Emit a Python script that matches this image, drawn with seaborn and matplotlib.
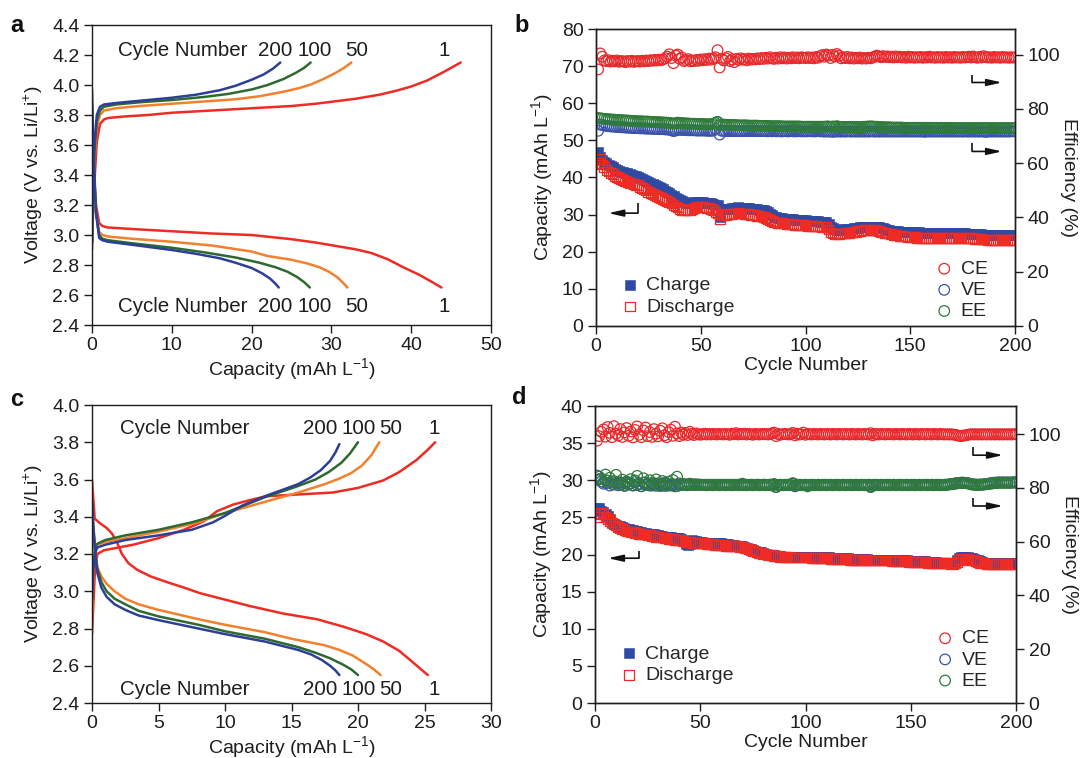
import numpy as np
import matplotlib
matplotlib.use("Agg")
import matplotlib.pyplot as plt
import seaborn as sns

sns.set_theme(style="ticks")
plt.rcParams["font.family"] = ["Liberation Sans", "DejaVu Sans"]
plt.rcParams["mathtext.fontset"] = "custom"
plt.rcParams["mathtext.rm"] = "Liberation Sans"
plt.rcParams["mathtext.it"] = "Liberation Sans:italic"
plt.rcParams["mathtext.bf"] = "Liberation Sans:bold"

FS = 14

# ---------------- Panel a: voltage profiles ----------------
a_chg_cap_1 = [0.0, 0.1, 0.3, 0.6, 1.0, 1.5, 2.0, 4, 7, 10, 15, 20, 25, 28, 30, 33, 36, 38, 40, 42, 44, 46.2]
a_chg_v_1 = [2.90, 3.10, 3.35, 3.62, 3.74, 3.77, 3.78, 3.79, 3.80, 3.815, 3.83, 3.845, 3.86, 3.875, 3.888, 3.908, 3.935, 3.96, 3.99, 4.03, 4.085, 4.15]
a_dis_cap_1 = [0.0, 0.2, 0.5, 0.9, 1.3, 2, 5, 10, 15, 20, 25, 28, 30, 33, 35, 37, 39, 41, 42.5, 43.8]
a_dis_v_1 = [3.55, 3.40, 3.20, 3.08, 3.06, 3.05, 3.04, 3.025, 3.01, 3.0, 2.972, 2.95, 2.932, 2.905, 2.88, 2.84, 2.785, 2.735, 2.69, 2.65]

a_chg_cap_50 = [0.0, 0.1, 0.3, 0.6, 1.0, 1.5, 3, 6, 10, 14, 18, 21, 24, 26, 27.5, 29, 30.5, 31.6, 32.5]
a_chg_v_50 = [2.95, 3.2, 3.5, 3.72, 3.80, 3.83, 3.845, 3.86, 3.875, 3.89, 3.905, 3.925, 3.955, 3.98, 4.005, 4.04, 4.08, 4.115, 4.15]
a_dis_cap_50 = [0.0, 0.2, 0.5, 0.9, 1.3, 2, 5, 10, 15, 20, 22, 25, 27, 28.5, 29.7, 30.7, 31.4, 32.0]
a_dis_v_50 = [3.75, 3.45, 3.15, 3.02, 3.0, 2.99, 2.975, 2.955, 2.93, 2.89, 2.86, 2.835, 2.81, 2.785, 2.755, 2.72, 2.685, 2.65]

a_chg_cap_100 = [0.0, 0.1, 0.3, 0.6, 1.0, 1.5, 3, 6, 10, 14, 17, 20, 22, 24, 25.5, 26.6, 27.4]
a_chg_v_100 = [2.95, 3.25, 3.55, 3.76, 3.83, 3.855, 3.87, 3.885, 3.90, 3.92, 3.94, 3.97, 4.0, 4.04, 4.08, 4.115, 4.15]
a_dis_cap_100 = [0.0, 0.2, 0.5, 0.9, 1.3, 2, 5, 10, 14, 18, 21, 23, 24.5, 25.7, 26.6, 27.3]
a_dis_v_100 = [3.85, 3.5, 3.15, 3.0, 2.975, 2.965, 2.945, 2.915, 2.885, 2.85, 2.815, 2.785, 2.755, 2.72, 2.685, 2.65]

a_chg_cap_200 = [0.0, 0.1, 0.3, 0.6, 1.0, 1.5, 3, 6, 10, 13, 16, 18, 20, 21.5, 22.7, 23.6]
a_chg_v_200 = [2.95, 3.3, 3.6, 3.8, 3.855, 3.87, 3.88, 3.895, 3.915, 3.935, 3.965, 3.995, 4.035, 4.07, 4.11, 4.15]
a_dis_cap_200 = [0.0, 0.2, 0.5, 0.9, 1.3, 2, 5, 10, 13, 16, 18, 20, 21.3, 22.3, 23.0, 23.4]
a_dis_v_200 = [3.97, 3.55, 3.15, 2.98, 2.965, 2.955, 2.935, 2.90, 2.875, 2.845, 2.815, 2.78, 2.745, 2.71, 2.675, 2.65]

# ---------------- Panel c: voltage profiles ----------------
c_chg_cap_1 = [0.0, 0.2, 0.4, 0.9, 3.1, 5, 6.9, 8.4, 9.4, 10.6, 11.9, 13.1, 15.6, 18.1, 20.0, 21.9, 23.1, 24.4, 25.25, 25.8]
c_chg_v_1 = [2.77, 3.08, 3.20, 3.22, 3.25, 3.285, 3.33, 3.375, 3.43, 3.465, 3.49, 3.51, 3.52, 3.53, 3.555, 3.595, 3.64, 3.705, 3.76, 3.80]
c_dis_cap_1 = [0.0, 0.2, 0.6, 1.1, 1.5, 1.9, 2.25, 2.75, 3.4, 4.4, 5.6, 6.9, 8.1, 10, 11.9, 14.4, 16.9, 18.9, 20.6, 21.9, 23.1, 24.1, 25.25]
c_dis_v_1 = [3.60, 3.39, 3.365, 3.34, 3.31, 3.26, 3.20, 3.15, 3.115, 3.08, 3.05, 3.02, 2.99, 2.955, 2.92, 2.88, 2.85, 2.81, 2.77, 2.73, 2.68, 2.62, 2.55]

c_chg_cap_50 = [0.0, 0.1, 0.25, 0.4, 1, 2.5, 5, 8, 10, 12, 13.5, 15.5, 17.5, 18.6, 19.5, 20.3, 21.0, 21.6]
c_chg_v_50 = [2.85, 3.1, 3.22, 3.25, 3.265, 3.285, 3.32, 3.37, 3.42, 3.46, 3.49, 3.53, 3.575, 3.605, 3.635, 3.675, 3.73, 3.80]
c_dis_cap_50 = [0.0, 0.1, 0.25, 0.4, 0.7, 1.1, 1.7, 2.5, 3.5, 5, 8, 10, 13, 15, 17.5, 18.6, 19.6, 20.6, 21.2, 21.7]
c_dis_v_50 = [3.45, 3.35, 3.22, 3.13, 3.08, 3.04, 3.0, 2.96, 2.93, 2.90, 2.85, 2.82, 2.78, 2.745, 2.71, 2.685, 2.655, 2.61, 2.58, 2.55]

c_chg_cap_100 = [0.0, 0.1, 0.25, 0.4, 1, 2.5, 5, 7.5, 10, 13, 15.5, 16.8, 17.8, 18.75, 19.4, 20.0]
c_chg_v_100 = [2.95, 3.15, 3.24, 3.255, 3.275, 3.30, 3.33, 3.37, 3.42, 3.505, 3.565, 3.60, 3.64, 3.69, 3.74, 3.80]
c_dis_cap_100 = [0.0, 0.1, 0.25, 0.4, 0.7, 1.1, 1.7, 2.5, 3.5, 5, 8, 10, 13, 15.5, 16.8, 17.9, 18.9, 19.5, 20.0]
c_dis_v_100 = [3.45, 3.33, 3.2, 3.12, 3.05, 3.0, 2.96, 2.93, 2.895, 2.865, 2.82, 2.785, 2.745, 2.70, 2.67, 2.64, 2.605, 2.58, 2.55]

c_chg_cap_200 = [0.0, 0.1, 0.25, 0.4, 1, 2.5, 5, 7.5, 9.1, 10, 11.3, 13, 15.5, 16.4, 17.2, 17.9, 18.3, 18.6]
c_chg_v_200 = [2.95, 3.12, 3.21, 3.235, 3.25, 3.275, 3.30, 3.33, 3.37, 3.405, 3.46, 3.51, 3.575, 3.61, 3.65, 3.70, 3.745, 3.79]
c_dis_cap_200 = [0.0, 0.1, 0.25, 0.4, 0.7, 1.1, 1.7, 2.5, 3.5, 5, 8, 10, 13, 15.5, 16.5, 17.3, 17.9, 18.3, 18.6]
c_dis_v_200 = [3.50, 3.35, 3.2, 3.1, 3.02, 2.97, 2.93, 2.90, 2.87, 2.845, 2.80, 2.77, 2.73, 2.685, 2.66, 2.63, 2.60, 2.575, 2.55]

# ---------------- Panel b: cycling ----------------
cycles = list(range(1, 201))
b_charge = [
    46.9, 45.6, 44.8, 44.2, 43.8, 43.4, 43.0, 42.7, 42.3, 42.0,
    41.8, 41.6, 41.4, 41.2, 41.1, 40.9, 40.7, 40.5, 40.4, 40.2,
    39.9, 39.6, 39.4, 39.1, 38.8, 38.6, 38.3, 38.0, 37.8, 37.5,
    37.1, 36.8, 36.4, 36.0, 35.7, 35.3, 34.9, 34.6, 34.2, 33.9,
    33.6, 33.3, 33.1, 33.0, 33.0, 33.2, 33.4, 33.5, 33.5, 33.4,
    33.3, 33.2, 33.1, 33.0, 33.0, 32.8, 32.6, 32.5, 29.4, 31.6,
    31.5, 31.4, 31.5, 31.6, 31.7, 31.8, 31.9, 32.0, 31.9, 31.9,
    31.8, 31.8, 31.7, 31.6, 31.6, 31.5, 31.4, 31.3, 31.3, 31.2,
    31.0, 30.6, 30.2, 29.8, 29.4, 29.3, 29.2, 29.1, 29.0, 28.9,
    28.8, 28.8, 28.7, 28.7, 28.6, 28.6, 28.5, 28.5, 28.5, 28.5,
    28.4, 28.4, 28.3, 28.3, 28.2, 28.2, 28.1, 28.1, 28.0, 28.0,
    27.4, 26.7, 26.3, 26.0, 25.8, 25.8, 25.9, 25.9, 26.0, 26.0,
    26.1, 26.2, 26.3, 26.4, 26.5, 26.6, 26.6, 26.7, 26.7, 26.7,
    26.8, 26.8, 26.7, 26.7, 26.7, 26.5, 26.3, 26.1, 25.9, 25.8,
    25.7, 25.6, 25.5, 25.5, 25.4, 25.4, 25.3, 25.3, 25.3, 25.3,
    25.2, 25.2, 25.2, 25.2, 25.1, 25.1, 25.1, 25.1, 25.1, 25.1,
    25.1, 25.1, 25.1, 25.1, 25.1, 25.1, 25.1, 25.1, 25.1, 25.1,
    25.0, 25.0, 25.0, 25.0, 25.0, 25.0, 24.9, 24.9, 24.9, 24.9,
    24.8, 24.8, 24.7, 24.7, 24.6, 24.6, 24.5, 24.5, 24.4, 24.4,
    24.4, 24.4, 24.4, 24.4, 24.4, 24.4, 24.4, 24.4, 24.4, 24.4,
]
b_discharge = [
    43.8, 44.9, 43.5, 42.8, 42.0, 41.6, 41.2, 40.9, 40.5, 40.2,
    39.9, 39.6, 39.4, 39.1, 38.8, 38.6, 38.4, 38.2, 38.0, 37.9,
    37.5, 37.2, 36.8, 36.5, 36.1, 35.8, 35.5, 35.2, 35.0, 34.8,
    34.5, 34.2, 33.9, 33.6, 33.4, 33.0, 32.6, 32.2, 31.9, 31.6,
    31.3, 31.2, 31.1, 31.2, 31.2, 31.5, 31.8, 32.0, 32.1, 32.1,
    32.0, 31.9, 31.8, 31.7, 31.6, 31.2, 30.8, 30.3, 28.7, 29.8,
    29.9, 30.0, 30.1, 30.2, 30.2, 30.3, 30.3, 30.4, 30.3, 30.3,
    30.2, 30.2, 30.1, 30.0, 29.9, 29.8, 29.7, 29.6, 29.5, 29.4,
    29.2, 28.9, 28.6, 28.3, 28.0, 27.9, 27.8, 27.7, 27.7, 27.6,
    27.5, 27.5, 27.4, 27.4, 27.3, 27.3, 27.2, 27.2, 27.1, 27.1,
    27.0, 27.0, 27.0, 26.9, 26.9, 26.8, 26.8, 26.7, 26.7, 26.7,
    26.0, 25.2, 24.9, 24.8, 24.8, 24.8, 24.9, 24.9, 24.9, 25.0,
    25.1, 25.2, 25.3, 25.4, 25.5, 25.6, 25.7, 25.8, 25.8, 25.8,
    25.8, 25.8, 25.8, 25.7, 25.6, 25.4, 25.2, 25.0, 24.9, 24.9,
    24.7, 24.6, 24.5, 24.4, 24.3, 24.2, 24.1, 24.1, 24.0, 24.0,
    23.9, 23.9, 23.8, 23.8, 23.7, 23.7, 23.7, 23.6, 23.6, 23.6,
    23.6, 23.6, 23.6, 23.6, 23.6, 23.6, 23.6, 23.6, 23.6, 23.6,
    23.6, 23.6, 23.6, 23.6, 23.6, 23.6, 23.6, 23.6, 23.6, 23.6,
    23.5, 23.5, 23.4, 23.4, 23.3, 23.3, 23.2, 23.2, 23.2, 23.1,
    23.1, 23.1, 23.1, 23.1, 23.1, 23.1, 23.1, 23.1, 23.1, 23.1,
]
b_ce = [
    94.5, 100.4, 99.2, 97.8, 97.6, 97.9, 97.4, 97.7, 97.5, 97.8,
    97.3, 97.6, 97.5, 97.2, 97.6, 97.4, 97.7, 97.3, 97.5, 97.6,
    97.4, 97.7, 97.5, 97.8, 97.6, 97.9, 97.7, 98.0, 97.8, 98.1,
    97.9, 98.2, 98.6, 99.2, 100.1, 98.7, 96.8, 99.6, 100.0, 98.4,
    98.9, 97.6, 97.9, 98.3, 97.5, 97.8, 97.6, 98.0, 97.7, 98.2,
    97.9, 98.3, 98.0, 98.5, 98.1, 98.6, 99.0, 101.6, 95.2, 98.4,
    97.8, 98.6, 99.1, 97.6, 98.2, 97.2, 98.4, 98.0, 98.6, 98.1,
    98.3, 97.9, 98.5, 98.1, 98.4, 98.2, 98.6, 98.3, 98.7, 98.4,
    98.8, 98.5, 99.0, 98.6, 98.4, 98.8, 98.5, 99.0, 98.6, 98.9,
    98.5, 98.8, 98.6, 99.0, 98.7, 98.9, 98.6, 99.0, 98.8, 98.7,
    99.0, 98.7, 98.9, 98.6, 99.1, 98.8, 99.4, 99.8, 99.2, 100.0,
    99.6, 98.7, 99.9, 99.3, 100.2, 99.5, 98.6, 99.0, 98.7, 99.1,
    98.6, 98.9, 98.5, 98.8, 98.6, 98.9, 98.5, 98.7, 98.5, 98.8,
    98.6, 98.9, 99.2, 99.6, 99.3, 99.0, 99.4, 99.1, 99.3, 99.0,
    99.2, 98.9, 99.3, 99.0, 99.2, 98.9, 99.1, 98.8, 99.2, 98.9,
    99.1, 98.8, 99.0, 98.9, 99.1, 98.8, 99.0, 98.9, 99.2, 98.9,
    99.0, 98.8, 99.1, 98.9, 99.0, 98.8, 99.1, 98.9, 99.0, 98.8,
    99.1, 98.9, 99.0, 98.8, 99.1, 98.9, 99.0, 99.2, 98.9, 99.3,
    99.0, 98.8, 99.1, 98.9, 99.4, 99.1, 98.9, 99.0, 98.8, 99.1,
    98.9, 99.0, 98.8, 99.1, 98.9, 99.0, 98.8, 99.0, 98.9, 98.9,
]
b_ve = [
    71.9, 74.2, 74.0, 73.8, 73.7, 73.6, 73.5, 73.5, 73.4, 73.3,
    73.3, 73.2, 73.2, 73.1, 73.1, 73.0, 73.0, 72.9, 72.9, 72.9,
    72.8, 72.8, 72.8, 72.7, 72.7, 72.7, 72.6, 72.6, 72.6, 72.5,
    72.5, 72.5, 72.4, 72.4, 72.3, 72.1, 71.8, 72.0, 72.3, 72.3,
    72.2, 72.2, 72.2, 72.1, 72.1, 72.1, 72.1, 72.0, 72.0, 72.0,
    72.0, 72.0, 71.9, 71.9, 71.9, 72.0, 72.6, 75.1, 70.5, 71.9,
    71.9, 71.8, 71.9, 71.8, 71.9, 71.8, 71.8, 71.9, 71.8, 71.8,
    71.8, 71.8, 71.9, 71.8, 71.8, 71.8, 71.9, 71.8, 71.8, 71.8,
    71.8, 71.7, 71.8, 71.7, 71.8, 71.7, 71.8, 71.7, 71.7, 71.8,
    71.7, 71.7, 71.8, 71.7, 71.7, 71.7, 71.8, 71.7, 71.7, 71.7,
    71.7, 71.8, 71.7, 71.7, 71.7, 71.8, 71.7, 71.7, 71.6, 71.7,
    71.6, 71.7, 71.5, 71.7, 71.6, 71.7, 71.6, 71.7, 71.6, 71.7,
    71.7, 71.6, 71.7, 71.6, 71.7, 71.6, 71.7, 71.6, 71.7, 71.6,
    71.7, 71.7, 71.6, 71.7, 71.6, 71.7, 71.6, 71.7, 71.6, 71.7,
    71.6, 71.7, 71.6, 71.7, 71.6, 71.7, 71.6, 71.7, 71.6, 71.7,
    71.6, 71.7, 71.6, 71.7, 71.6, 71.7, 71.5, 71.7, 71.6, 71.7,
    71.6, 71.7, 71.6, 71.7, 71.6, 71.7, 71.6, 71.7, 71.6, 71.7,
    71.6, 71.7, 71.6, 71.7, 71.6, 71.7, 71.6, 71.7, 71.6, 71.7,
    71.6, 71.7, 71.6, 71.7, 71.6, 71.5, 71.6, 71.7, 71.6, 71.7,
    71.6, 71.7, 71.6, 71.7, 71.6, 71.7, 71.6, 71.7, 71.7, 71.7,
]
b_ee = [
    76.6, 76.5, 76.4, 76.3, 76.2, 76.2, 76.1, 76.0, 76.0, 75.9,
    75.9, 75.8, 75.8, 75.7, 75.7, 75.6, 75.6, 75.5, 75.5, 75.4,
    75.4, 75.4, 75.3, 75.3, 75.3, 75.2, 75.2, 75.1, 75.1, 75.1,
    75.0, 75.0, 74.9, 74.9, 74.8, 74.7, 74.5, 74.7, 74.9, 74.8,
    74.7, 74.7, 74.6, 74.6, 74.5, 74.5, 74.5, 74.4, 74.4, 74.4,
    74.4, 74.4, 74.3, 74.3, 74.3, 74.5, 74.8, 75.2, 74.0, 74.2,
    74.2, 74.1, 74.1, 74.1, 74.0, 74.0, 74.0, 73.9, 73.9, 73.9,
    73.9, 73.9, 73.8, 73.8, 73.8, 73.8, 73.8, 73.7, 73.7, 73.7,
    73.7, 73.7, 73.6, 73.6, 73.6, 73.6, 73.6, 73.6, 73.5, 73.5,
    73.5, 73.5, 73.5, 73.5, 73.5, 73.5, 73.5, 73.4, 73.4, 73.4,
    73.4, 73.4, 73.4, 73.4, 73.4, 73.4, 73.4, 73.4, 73.4, 73.5,
    73.5, 73.3, 73.5, 73.4, 73.6, 73.4, 73.3, 73.3, 73.3, 73.3,
    73.3, 73.3, 73.3, 73.3, 73.3, 73.3, 73.3, 73.4, 73.4, 73.5,
    73.5, 73.5, 73.4, 73.4, 73.3, 73.3, 73.2, 73.2, 73.2, 73.2,
    73.1, 73.1, 73.1, 73.1, 73.1, 73.1, 73.0, 73.0, 73.0, 73.0,
    73.0, 73.0, 73.0, 73.0, 73.0, 73.0, 73.0, 73.0, 73.0, 73.0,
    73.0, 72.9, 73.0, 72.9, 73.0, 72.9, 73.0, 72.9, 73.0, 72.9,
    72.9, 72.9, 72.9, 72.9, 72.9, 72.9, 72.9, 72.9, 72.9, 72.9,
    72.9, 72.9, 72.9, 72.9, 72.9, 72.9, 72.9, 72.9, 72.9, 72.9,
    72.9, 72.9, 72.9, 72.9, 72.9, 72.9, 72.9, 72.9, 72.9, 72.9,
]

# ---------------- Panel d: cycling ----------------
d_charge = [
    26.2, 26.2, 25.9, 25.7, 25.5, 25.2, 24.8, 24.2, 24.1, 24.0,
    23.9, 23.8, 23.7, 23.6, 23.5, 23.4, 23.3, 23.3, 23.2, 23.1,
    23.0, 23.0, 22.9, 22.9, 22.8, 22.8, 22.7, 22.7, 22.6, 22.6,
    22.5, 22.5, 22.4, 22.4, 22.3, 22.3, 22.2, 22.2, 22.2, 22.2,
    22.1, 21.8, 21.4, 21.3, 21.4, 21.9, 21.8, 21.8, 21.7, 21.7,
    21.7, 21.6, 21.6, 21.6, 21.6, 21.5, 21.5, 21.5, 21.5, 21.5,
    21.4, 21.4, 21.4, 21.3, 21.3, 21.3, 21.2, 21.2, 21.1, 21.1,
    21.0, 20.9, 20.8, 20.7, 20.6, 20.5, 20.4, 20.3, 20.3, 20.2,
    20.1, 20.0, 20.0, 19.9, 19.9, 19.8, 19.8, 19.8, 19.7, 19.7,
    19.7, 19.7, 19.7, 19.7, 19.7, 19.7, 19.7, 19.7, 19.7, 19.7,
    19.7, 19.7, 19.6, 19.6, 19.6, 19.6, 19.6, 19.6, 19.6, 19.6,
    19.6, 19.5, 19.5, 19.5, 19.5, 19.5, 19.5, 19.5, 19.5, 19.5,
    19.4, 19.4, 19.4, 19.4, 19.4, 19.4, 19.4, 19.4, 19.4, 19.3,
    19.3, 19.3, 19.3, 19.3, 19.3, 19.3, 19.3, 19.3, 19.3, 19.3,
    19.2, 19.2, 19.2, 19.2, 19.2, 19.2, 19.2, 19.2, 19.1, 19.1,
    19.1, 19.1, 19.1, 19.1, 19.1, 19.1, 19.1, 19.0, 19.0, 19.0,
    19.0, 19.0, 18.9, 18.9, 18.9, 18.9, 18.9, 18.9, 18.8, 18.8,
    18.9, 19.2, 19.5, 19.6, 19.6, 19.6, 19.6, 19.5, 19.5, 19.4,
    19.3, 19.2, 19.1, 19.0, 18.9, 18.9, 18.8, 18.8, 18.8, 18.8,
    18.8, 18.8, 18.8, 18.8, 18.8, 18.8, 18.8, 18.8, 18.8, 18.8,
]
d_discharge = [
    25.1, 25.5, 25.6, 25.4, 25.1, 24.8, 24.5, 24.3, 24.1, 23.9,
    23.7, 23.6, 23.4, 23.3, 23.1, 23.1, 23.0, 23.0, 22.9, 22.9,
    22.8, 22.8, 22.7, 22.7, 22.6, 22.6, 22.5, 22.5, 22.4, 22.4,
    22.3, 22.3, 22.2, 22.2, 22.1, 22.1, 22.1, 22.0, 22.0, 22.0,
    21.9, 21.8, 21.7, 21.7, 21.7, 21.6, 21.6, 21.6, 21.5, 21.5,
    21.5, 21.5, 21.4, 21.4, 21.4, 21.4, 21.3, 21.3, 21.3, 21.3,
    21.3, 21.2, 21.2, 21.2, 21.2, 21.1, 21.1, 21.1, 21.0, 21.0,
    20.9, 20.8, 20.7, 20.6, 20.5, 20.4, 20.3, 20.2, 20.2, 20.1,
    20.0, 20.0, 19.9, 19.9, 19.8, 19.8, 19.8, 19.7, 19.7, 19.7,
    19.7, 19.7, 19.6, 19.6, 19.6, 19.6, 19.6, 19.6, 19.6, 19.6,
    19.6, 19.6, 19.5, 19.5, 19.5, 19.5, 19.5, 19.5, 19.5, 19.5,
    19.5, 19.4, 19.4, 19.4, 19.4, 19.4, 19.4, 19.4, 19.4, 19.4,
    19.3, 19.3, 19.3, 19.3, 19.3, 19.3, 19.3, 19.3, 19.3, 19.2,
    19.2, 19.2, 19.2, 19.2, 19.2, 19.2, 19.2, 19.2, 19.2, 19.2,
    19.1, 19.1, 19.1, 19.1, 19.1, 19.1, 19.1, 19.1, 19.0, 19.0,
    19.0, 19.0, 19.0, 19.0, 19.0, 19.0, 19.0, 18.9, 18.9, 18.9,
    18.9, 18.9, 18.8, 18.8, 18.8, 18.8, 18.8, 18.8, 18.7, 18.7,
    18.8, 19.0, 19.3, 19.4, 19.4, 19.4, 19.4, 19.3, 19.3, 19.2,
    19.1, 19.0, 18.9, 18.8, 18.8, 18.7, 18.7, 18.7, 18.7, 18.7,
    18.7, 18.7, 18.7, 18.7, 18.7, 18.7, 18.7, 18.7, 18.7, 18.7,
]
d_ce = [
    97.6, 99.3, 100.9, 101.8, 99.1, 102.7, 100.5, 98.9, 103.0, 100.2,
    99.5, 101.9, 99.0, 100.7, 102.3, 99.4, 101.0, 98.8, 101.6, 102.9,
    99.8, 98.9, 101.4, 102.5, 99.3, 100.8, 99.0, 101.9, 100.2, 99.2,
    101.3, 102.2, 99.6, 98.9, 100.8, 101.7, 99.4, 102.8, 100.3, 99.3,
    100.6, 99.8, 100.5, 99.7, 100.9, 100.1, 99.7, 100.3, 100.0, 99.8,
    100.0, 100.2, 99.9, 100.1, 99.9, 100.1, 100.0, 99.9, 100.1, 100.0,
    99.9, 100.1, 100.0, 99.8, 100.2, 100.0, 100.4, 99.9, 100.1, 100.0,
    100.2, 99.9, 100.1, 100.0, 99.8, 100.1, 100.0, 99.9, 100.1, 100.0,
    100.1, 99.9, 100.0, 100.3, 100.6, 99.3, 100.1, 99.8, 100.0, 100.1,
    100.0, 99.9, 100.1, 100.5, 99.6, 100.2, 99.9, 100.0, 100.6, 99.8,
    100.1, 100.0, 99.9, 100.1, 100.0, 99.9, 100.1, 100.0, 99.9, 100.1,
    100.0, 99.9, 100.1, 100.0, 99.9, 100.1, 100.0, 99.9, 100.1, 100.0,
    99.9, 100.1, 100.0, 99.9, 100.1, 100.0, 99.9, 100.1, 100.0, 99.9,
    100.4, 99.6, 100.1, 100.0, 99.9, 100.1, 100.0, 99.9, 100.1, 100.0,
    100.0, 99.9, 100.1, 100.0, 99.9, 100.1, 100.0, 99.9, 100.1, 100.0,
    99.9, 100.1, 100.0, 99.9, 100.1, 100.0, 99.9, 100.1, 100.0, 99.9,
    100.1, 100.0, 99.9, 100.1, 100.0, 99.9, 100.0, 99.9, 100.0, 99.9,
    99.8, 99.6, 99.4, 99.3, 99.5, 99.6, 99.8, 99.9, 100.0, 99.9,
    100.0, 99.9, 100.0, 99.9, 100.0, 99.9, 100.0, 99.9, 100.0, 99.9,
    100.0, 99.9, 100.0, 99.9, 100.0, 99.9, 100.0, 99.9, 100.0, 100.0,
]
d_ve = [
    84.6, 83.3, 82.4, 81.6, 82.9, 81.8, 80.9, 82.3, 81.3, 81.9,
    81.0, 82.1, 81.4, 80.8, 82.0, 81.3, 81.7, 80.9, 82.2, 81.1,
    81.6, 80.7, 82.0, 81.2, 81.5, 80.9, 81.8, 81.2, 80.8, 81.7,
    81.1, 81.5, 80.8, 81.6, 81.0, 80.9, 81.4, 81.2, 80.7, 81.3,
    81.2, 81.3, 81.1, 81.3, 81.2, 81.2, 81.1, 81.3, 81.2, 81.2,
    81.2, 81.1, 81.2, 81.2, 81.1, 81.2, 81.2, 81.1, 81.2, 81.2,
    81.1, 81.2, 81.2, 81.1, 81.2, 81.2, 81.1, 81.2, 81.2, 81.1,
    81.2, 81.2, 81.1, 81.2, 81.2, 81.1, 81.2, 81.2, 81.1, 81.2,
    81.2, 81.1, 81.2, 81.0, 81.2, 80.4, 81.1, 81.2, 81.1, 81.2,
    81.1, 81.2, 81.1, 81.6, 80.6, 81.2, 81.1, 81.2, 81.1, 81.2,
    81.1, 81.2, 81.1, 81.2, 81.1, 81.2, 81.1, 81.2, 81.1, 81.2,
    81.1, 81.2, 81.1, 81.2, 81.1, 81.2, 81.1, 81.2, 81.1, 81.2,
    81.1, 81.2, 81.1, 81.2, 81.1, 81.2, 81.1, 81.2, 81.1, 81.2,
    80.6, 81.2, 81.1, 81.2, 81.1, 81.2, 81.1, 81.2, 81.1, 81.2,
    81.1, 81.2, 81.1, 81.2, 81.1, 81.2, 81.1, 81.2, 81.1, 81.2,
    81.1, 81.2, 81.1, 81.2, 81.1, 81.2, 81.1, 81.2, 81.1, 81.2,
    81.1, 81.2, 81.1, 81.2, 81.1, 81.2, 81.2, 81.3, 81.4, 81.5,
    81.7, 81.8, 81.9, 82.0, 82.0, 81.9, 81.8, 81.6, 81.4, 81.3,
    81.3, 81.2, 81.3, 81.3, 81.4, 81.5, 81.6, 81.8, 81.9, 82.0,
    82.0, 82.1, 82.0, 82.1, 82.0, 82.1, 82.0, 82.1, 82.1, 82.1,
]
d_ee = [
    83.0, 84.2, 83.4, 82.2, 85.0, 82.7, 83.8, 81.5, 82.6, 84.9,
    82.0, 81.3, 83.1, 80.8, 82.4, 81.6, 83.3, 81.0, 82.8, 84.5,
    81.4, 80.6, 83.6, 82.1, 81.2, 82.9, 80.9, 81.8, 83.2, 81.5,
    80.7, 82.6, 81.9, 80.8, 82.3, 81.4, 83.0, 80.6, 84.2, 81.7,
    81.1, 81.5, 81.3, 81.0, 81.6, 81.2, 81.4, 81.1, 81.3, 81.2,
    81.1, 81.2, 81.0, 81.1, 81.2, 81.0, 81.1, 81.2, 81.0, 81.1,
    81.2, 81.0, 81.1, 81.2, 81.0, 81.1, 81.2, 81.0, 81.1, 81.6,
    81.2, 81.0, 81.1, 81.2, 81.0, 81.1, 81.2, 81.0, 81.1, 81.2,
    81.0, 81.1, 81.2, 81.0, 81.5, 80.3, 81.1, 81.2, 81.0, 81.1,
    81.2, 81.0, 81.1, 81.8, 80.9, 81.1, 81.2, 81.0, 81.1, 81.2,
    80.6, 81.1, 81.2, 81.0, 81.1, 81.2, 81.0, 81.1, 81.2, 81.0,
    81.1, 81.2, 81.0, 81.1, 81.2, 81.0, 81.1, 81.2, 81.0, 81.1,
    81.2, 81.0, 81.1, 81.2, 81.0, 81.1, 81.2, 81.0, 81.1, 81.2,
    80.3, 81.1, 81.2, 81.0, 81.1, 81.2, 81.0, 81.1, 81.2, 81.0,
    81.1, 81.2, 81.0, 81.1, 81.2, 81.0, 81.1, 81.2, 81.0, 81.1,
    81.2, 81.0, 81.1, 81.2, 81.0, 81.1, 81.2, 81.0, 81.1, 81.2,
    81.0, 81.1, 81.2, 81.0, 81.1, 81.2, 81.2, 81.3, 81.4, 81.5,
    81.6, 81.7, 81.8, 81.9, 81.9, 81.8, 81.7, 81.5, 81.3, 81.2,
    81.2, 81.1, 81.2, 81.2, 81.3, 81.4, 81.5, 81.6, 81.7, 81.8,
    81.9, 82.0, 81.9, 82.0, 81.9, 82.0, 81.9, 82.0, 82.0, 82.0,
]

# ---------------- colours ----------------
C_RED = "#EE2B25"
C_ORANGE = "#F2802C"
C_GREEN = "#2E6A30"
C_BLUE = "#2C3F99"
C_CE = "#E8282B"
C_VE = "#3A52AA"
C_EE = "#2E7B3A"
C_CHG = "#2E4AA3"
C_TXT = "#1E1E1E"

fig = plt.figure(figsize=(10.84, 7.58), dpi=100)
W, H = 1084.0, 758.0


def px_axes(left, top, right, bottom):
    return fig.add_axes([left / W, 1 - bottom / H, (right - left) / W, (bottom - top) / H])


ax_a = px_axes(92, 25, 491, 325)
ax_b = px_axes(596, 29, 1015, 326)
ax_c = px_axes(92, 405, 491, 703)
ax_d = px_axes(595, 406, 1016, 703)


def style_axis(ax):
    for s in ax.spines.values():
        s.set_linewidth(1.0)
        s.set_color(C_TXT)
    ax.tick_params(direction="out", length=5.5, width=1.0, labelsize=FS, pad=3.5, colors=C_TXT)
    ax.grid(False)


def voltage_panel(ax, curves, xlim, xticks, ylim, yticks, lab_y_top, lab_y_bot, lab_pos):
    for cap, v, col in curves:
        sns.lineplot(x=cap, y=v, sort=False, estimator=None, color=col, linewidth=1.8,
                     ax=ax, legend=False)
    for line in ax.get_lines():
        line.set_solid_joinstyle("round")
        line.set_solid_capstyle("round")
    ax.set_xlim(*xlim)
    ax.set_ylim(*ylim)
    ax.set_xticks(xticks)
    ax.set_yticks(yticks)
    ax.set_yticklabels([f"{t:.1f}" for t in yticks])
    ax.set_xlabel("Capacity (mAh L$^{-1}$)", fontsize=FS, labelpad=1, color=C_TXT)
    ax.set_ylabel("Voltage (V vs. Li/Li$^{+}$)", fontsize=FS, labelpad=5, color=C_TXT)
    for yy in (lab_y_top, lab_y_bot):
        for txt, xx in lab_pos:
            ax.text(xx, yy, txt, ha="left", va="center", fontsize=FS + 0.8, color=C_TXT)
    style_axis(ax)


voltage_panel(
    ax_a,
    [
        (a_chg_cap_1, a_chg_v_1, C_RED), (a_dis_cap_1, a_dis_v_1, C_RED),
        (a_chg_cap_50, a_chg_v_50, C_ORANGE), (a_dis_cap_50, a_dis_v_50, C_ORANGE),
        (a_chg_cap_100, a_chg_v_100, C_GREEN), (a_dis_cap_100, a_dis_v_100, C_GREEN),
        (a_chg_cap_200, a_chg_v_200, C_BLUE), (a_dis_cap_200, a_dis_v_200, C_BLUE),
    ],
    (0, 50), [0, 10, 20, 30, 40, 50], (2.4, 4.4), list(np.round(np.arange(2.4, 4.41, 0.2), 1)),
    4.233, 2.522,
    [("Cycle Number", 3.3), ("200", 20.8), ("100", 25.7), ("50", 31.7), ("1", 43.4)],
)
voltage_panel(
    ax_c,
    [
        (c_chg_cap_1, c_chg_v_1, C_RED), (c_dis_cap_1, c_dis_v_1, C_RED),
        (c_chg_cap_50, c_chg_v_50, C_ORANGE), (c_dis_cap_50, c_dis_v_50, C_ORANGE),
        (c_chg_cap_100, c_chg_v_100, C_GREEN), (c_dis_cap_100, c_dis_v_100, C_GREEN),
        (c_chg_cap_200, c_chg_v_200, C_BLUE), (c_dis_cap_200, c_dis_v_200, C_BLUE),
    ],
    (0, 30), [0, 5, 10, 15, 20, 25, 30], (2.4, 4.0), list(np.round(np.arange(2.4, 4.01, 0.2), 1)),
    3.875, 2.47,
    [("Cycle Number", 2.1), ("200", 15.9), ("100", 18.75), ("50", 21.6), ("1", 25.3)],
)


def bent_arrow(ax, x0, y0, y1, x1):
    ax.plot([x0, x0], [y0, y1], color="#111111", lw=1.2, solid_capstyle="butt", zorder=5)
    ax.annotate("", xy=(x1, y1), xytext=(x0, y1),
                arrowprops=dict(arrowstyle="-|>,head_length=0.75,head_width=0.17",
                                color="#111111", lw=1.2, shrinkA=0, shrinkB=0), zorder=5)


def cycling_panel(ax, charge, discharge, ce, ve, ee, cap_max, cap_step, eff_top,
                  left_arrow, right_arrows, leg_left_y, leg_right_y):
    sns.scatterplot(x=cycles, y=charge, marker="s", s=50, color=C_CHG, edgecolor=C_CHG,
                    linewidth=0.4, ax=ax, legend=False, label="Charge", zorder=3)
    sns.scatterplot(x=cycles, y=discharge, marker="s", s=50, color=C_RED, facecolors="none",
                    edgecolor=C_RED, linewidth=0.9, ax=ax, legend=False, label="Discharge", zorder=4)
    ax.set_xlim(0, 200)
    ax.set_ylim(0, cap_max)
    ax.set_xticks([0, 50, 100, 150, 200])
    ax.set_yticks(np.arange(0, cap_max + 0.1, cap_step))
    ax.set_xlabel("Cycle Number", fontsize=FS, labelpad=1, color=C_TXT)
    ax.set_ylabel("Capacity (mAh L$^{-1}$)", fontsize=FS, labelpad=5, color=C_TXT)
    style_axis(ax)

    ax2 = ax.twinx()
    for vals, col, lab in ((ce, C_CE, "CE"), (ve, C_VE, "VE"), (ee, C_EE, "EE")):
        sns.scatterplot(x=cycles, y=vals, marker="o", s=58, color=col, facecolors="none",
                        edgecolor=col, linewidth=0.9, ax=ax2, legend=False, label=lab)
    ax2.set_ylim(0, eff_top)
    ax2.set_yticks([0, 20, 40, 60, 80, 100])
    ax2.set_ylabel("Efficiency (%)", fontsize=FS, rotation=270, va="bottom", labelpad=0,
                   color=C_TXT)
    style_axis(ax2)
    ax2.set_xlim(0, 200)

    bent_arrow(ax, *left_arrow)
    for ra in right_arrows:
        bent_arrow(ax2, *ra)

    h, l = ax.get_legend_handles_labels()
    ax.legend(h, l, loc="lower left", bbox_to_anchor=(0.062, leg_left_y), frameon=False,
              fontsize=FS, handlelength=0.8, handletextpad=0.45, labelspacing=0.18,
              borderpad=0, borderaxespad=0, scatterpoints=1)
    h2, l2 = ax2.get_legend_handles_labels()
    ax2.legend(h2, l2, loc="lower right", bbox_to_anchor=(0.935, leg_right_y), frameon=False,
               fontsize=FS, handlelength=0.8, handletextpad=0.45, labelspacing=0.18,
               borderpad=0, borderaxespad=0, scatterpoints=1)
    return ax2


cycling_panel(ax_b, b_charge, b_discharge, b_ce, b_ve, b_ee, 80, 10, 109.4,
              (20.0, 33.1, 30.4, 5.9),
              [(179.5, 92.6, 89.7, 193.8), (179.5, 67.3, 64.3, 193.8)],
              0.035, 0.02)
cycling_panel(ax_d, d_charge, d_discharge, d_ce, d_ve, d_ee, 40, 5, 110.5,
              (20.9, 20.5, 19.5, 6.2),
              [(179.6, 95.2, 92.2, 193.8), (179.6, 76.2, 73.3, 193.8)],
              0.065, 0.045)

for lt, x, y in (("a", 10, 25), ("b", 514, 25), ("c", 10, 400), ("d", 512, 398)):
    fig.text(x / W, 1 - y / H, lt, fontsize=17, fontweight="bold", ha="left", va="center",
             color="#111111")

fig.savefig("out.png", dpi=100)
